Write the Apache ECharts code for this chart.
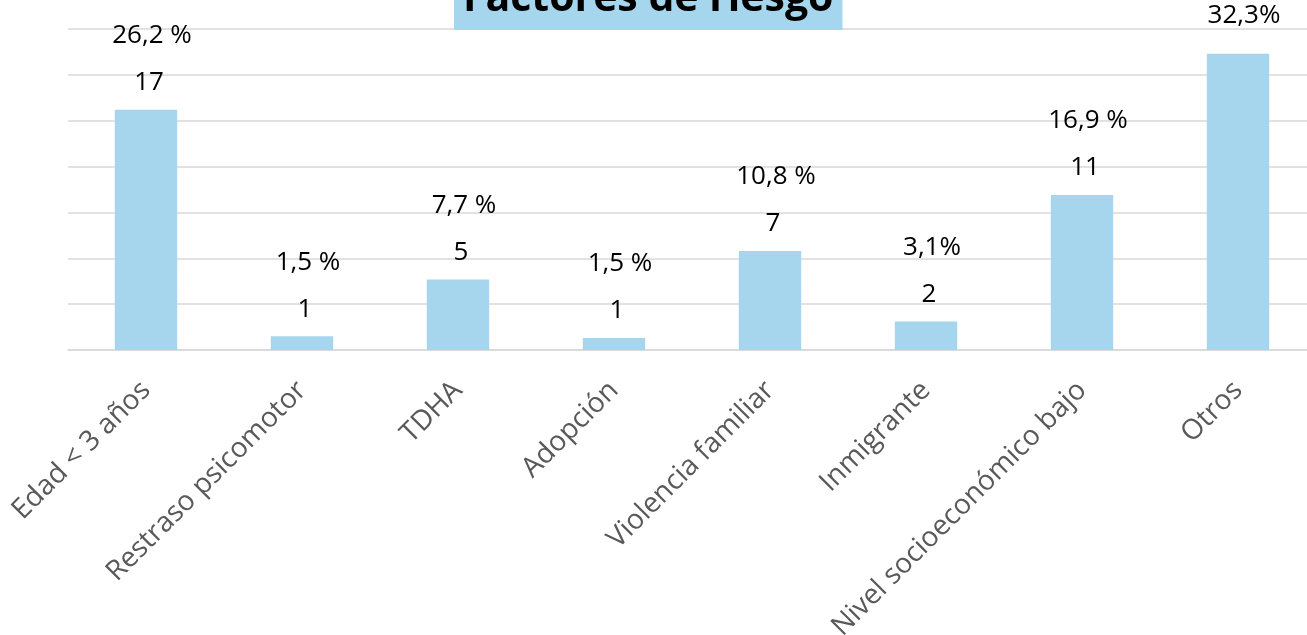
<!DOCTYPE html>
<html>
<head>
<meta charset="utf-8">
<script src="https://cdn.jsdelivr.net/npm/echarts@6/dist/echarts.min.js"></script>
<style>
  html, body { margin: 0; padding: 0; background: #fff; overflow: hidden; }
  #chart { width: 1316px; height: 635px; }
</style>
</head>
<body>
<div id="chart"></div>
<script>
// categorías (eje x)
const categories = ['Edad < 3 años', 'Restraso psicomotor', 'TDHA', 'Adopción',
  'Violencia familiar', 'Inmigrante', 'Nivel socioeconómico bajo', 'Otros'];
// porcentaje de cada factor (altura de las barras)
const percentages = [26.2, 1.5, 7.7, 1.3, 10.8, 3.1, 16.9, 32.3];
// textos de porcentaje tal como aparecen
const pctLabels = ['26,2 %', '1,5 %', '7,7 %', '1,5 %', '10,8 %', '3,1%', '16,9 %', '32,3%'];
// número de casos (Otros no muestra número)
const counts = [17, 1, 5, 1, 7, 2, 11, null];

const myChart = echarts.init(document.getElementById('chart'));
const option = {
  animation: false,
  title: {
    text: 'Factores de riesgo',
    left: 454,
    top: -25,
    backgroundColor: '#A6D6EE',
    padding: [0, 9, 7, 9],
    textStyle: {
      fontFamily: 'Open Sans',
      fontWeight: 'bold',
      fontSize: 41,
      color: '#000',
      lineHeight: 48
    }
  },
  grid: {
    left: 68,
    top: 29,
    right: 0,
    height: 321,
    outerBoundsMode: 'none'
  },
  xAxis: {
    type: 'category',
    data: categories,
    axisLine: { lineStyle: { color: '#D9D9D9', width: 1.5 } },
    axisTick: { show: false },
    axisLabel: {
      rotate: 45,
      margin: 36,
      interval: 0,
      color: '#595959',
      fontFamily: 'Open Sans',
      fontSize: 28
    }
  },
  yAxis: {
    type: 'value',
    min: 0,
    max: 35,
    interval: 5,
    axisLabel: { show: false },
    axisLine: { show: false },
    axisTick: { show: false },
    splitLine: { lineStyle: { color: '#D9D9D9', width: 1.5 } }
  },
  series: [
    {
      type: 'bar',
      data: percentages,
      barWidth: '40%',
      itemStyle: { color: '#A6D6EE' },
      label: {
        show: true,
        position: 'top',
        distance: 9,
        formatter: function (p) {
          const c = counts[p.dataIndex];
          return c == null
            ? '{p|' + pctLabels[p.dataIndex] + '}'
            : '{p|' + pctLabels[p.dataIndex] + '}\n{c|' + c + '}';
        },
        rich: {
          p: { fontFamily: 'Open Sans', fontSize: 26, color: '#000', lineHeight: 58, padding: [0, 0, 0, 12] },
          c: { fontFamily: 'Open Sans', fontSize: 26, color: '#000', lineHeight: 36, padding: [0, 0, 0, 6] }
        }
      }
    }
  ]
};
myChart.setOption(option);
</script>
</body>
</html>
